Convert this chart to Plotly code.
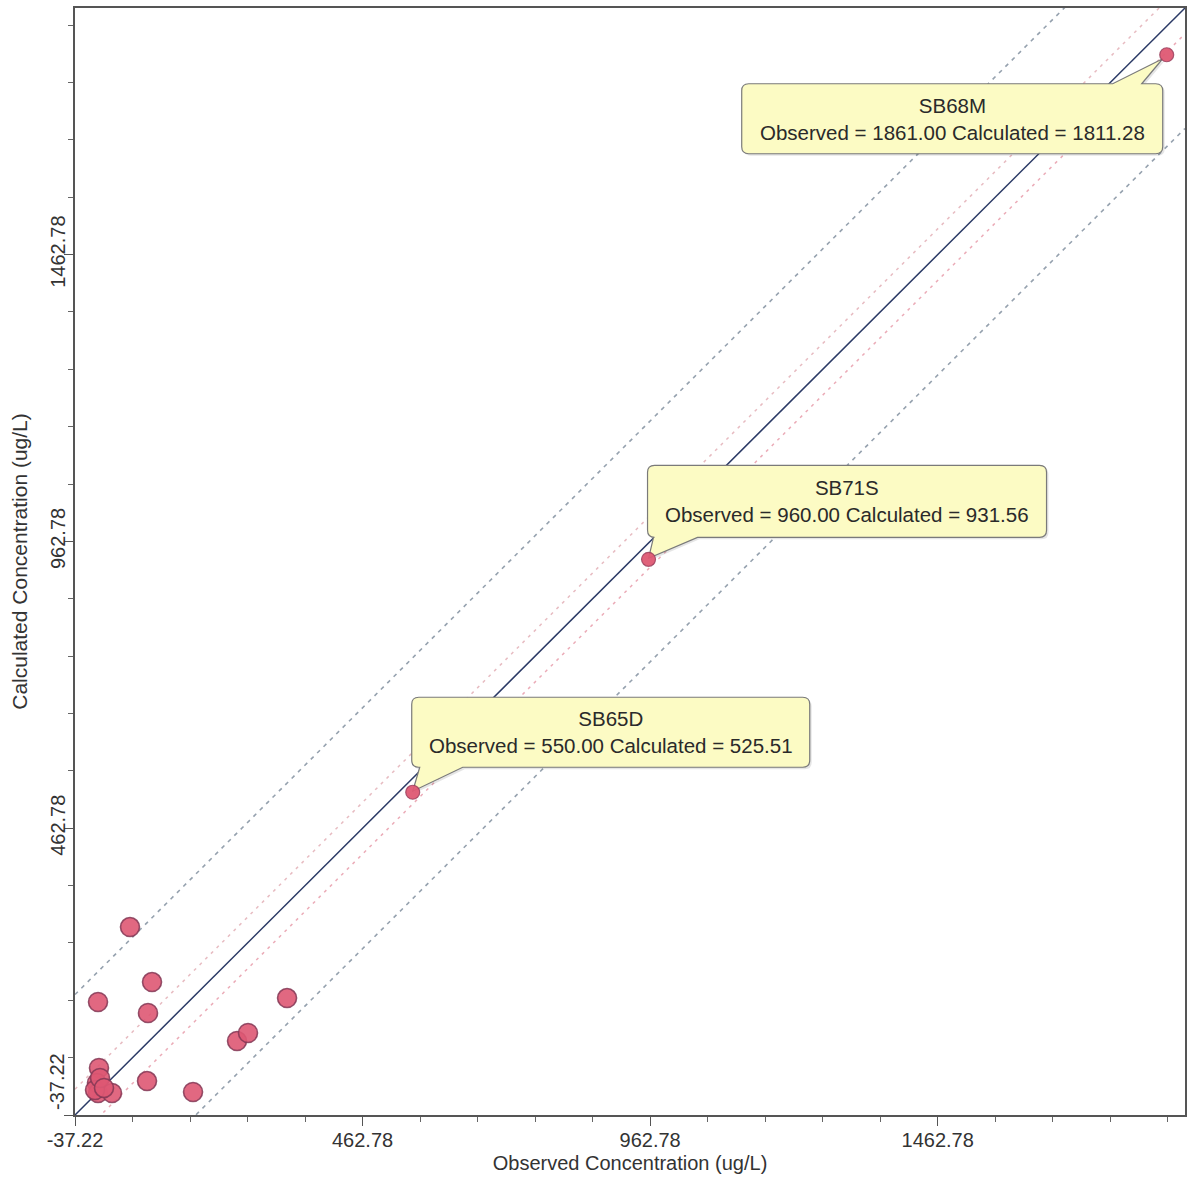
import plotly.graph_objects as go

# ---------------- data ----------------
obs_values = [58.4, 96.7, 2.8, 89.7, 331.5, 244.5, 263.6, 4.5, 1.0, 2.8, 27.1, 88.0, 168.0, -2.4, 6.3, 13.2]
calc_values = [290.5, 194.6, 159.8, 140.6, 166.7, 91.8, 105.7, 44.7, 18.6, 1.1, 1.1, 22.0, 2.9, 6.4, 27.3, 9.9]

labeled_names = ["SB65D", "SB71S", "SB68M"]
labeled_obs = [550.00, 960.00, 1861.00]
labeled_calc = [525.51, 931.56, 1811.28]

axis_min = -37.22
axis_max = 1892.78
tick_values = [-37.22, 462.78, 962.78, 1462.78]
tick_labels = ["-37.22", "462.78", "962.78", "1462.78"]
outer_band = 210.0
inner_band = 45.0

# ---------------- layout geometry ----------------
W, H = 1189, 1179
PL, PR, PT, PB = 75, 1185, 8, 1115
sx = (PR - PL) / (axis_max - axis_min)
sy = (PB - PT) / (axis_max - axis_min)


def to_px(x, y):
    return PL + (x - axis_min) * sx, PB - (y - axis_min) * sy


def to_data(px, py):
    return axis_min + (px - PL) / sx, axis_min + (PB - py) / sy


FONT = "Liberation Sans, Arial, sans-serif"

fig = go.Figure()

shapes = []
# reference lines
line_specs = [
    (outer_band, dict(color="rgba(130,145,160,0.85)", width=1.6, dash="4px,5px")),
    (-outer_band, dict(color="rgba(130,145,160,0.85)", width=1.6, dash="4px,5px")),
    (inner_band, dict(color="rgba(225,170,178,0.8)", width=1.5, dash="3px,5px")),
    (-inner_band, dict(color="rgba(230,150,165,0.8)", width=1.5, dash="3px,5px")),
    (0.0, dict(color="#2b3a66", width=1.5)),
]
for off, ln in line_specs:
    x0 = axis_min
    x1 = axis_max
    shapes.append(dict(type="line", xref="x", yref="y", x0=x0, y0=x0 + off, x1=x1, y1=x1 + off,
                       line=ln, layer="below"))

# callouts (pixel offsets relative to the labelled point)
callouts = [
    dict(box=(-1, -95, 398, 70), side="bottom", base=(8, 51), tip=(0, -1)),
    dict(box=(-1, -94, 399, 72), side="bottom", base=(6, 50), tip=(0, -1)),
    dict(box=(-425, 29, 421, 70), side="top", base=(371, 400), tip=(-4, 4)),
]


def callout_path(L, T, Wb, Hb, side, b1, b2, tx, ty, r=7):
    def P(px, py):
        x, y = to_data(px, py)
        return f"{x:.3f},{y:.3f}"

    s = f"M{P(L + r, T)}"
    if side == "top":
        s += f" L{P(b1, T)} L{P(tx, ty)} L{P(b2, T)}"
    s += f" L{P(L + Wb - r, T)} Q{P(L + Wb, T)} {P(L + Wb, T + r)}"
    s += f" L{P(L + Wb, T + Hb - r)} Q{P(L + Wb, T + Hb)} {P(L + Wb - r, T + Hb)}"
    if side == "bottom":
        s += f" L{P(b2, T + Hb)} L{P(tx, ty)} L{P(b1, T + Hb)}"
    s += f" L{P(L + r, T + Hb)} Q{P(L, T + Hb)} {P(L, T + Hb - r)}"
    s += f" L{P(L, T + r)} Q{P(L, T)} {P(L + r, T)} Z"
    return s


annotations = []
for name, ox, oy, co in zip(labeled_names, labeled_obs, labeled_calc, callouts):
    ptx, pty = to_px(ox, oy)
    dx, dy, bw, bh = co["box"]
    L, T = ptx + dx, pty + dy
    b1, b2 = L + co["base"][0], L + co["base"][1]
    tx, ty = ptx + co["tip"][0], pty + co["tip"][1]
    shapes.append(dict(type="path", xref="x", yref="y",
                       path=callout_path(L + 2, T + 2, bw, bh, co["side"], b1 + 2, b2 + 2, tx + 2, ty + 2),
                       fillcolor="rgba(0,0,0,0.10)", line=dict(width=0), layer="below"))
    shapes.append(dict(type="path", xref="x", yref="y",
                       path=callout_path(L, T, bw, bh, co["side"], b1, b2, tx, ty),
                       fillcolor="#fcfbc4", line=dict(color="#7a7a7a", width=1.2), layer="below"))
    cx, cy = to_data(L + bw / 2, T + bh / 2)
    annotations.append(dict(x=cx, y=cy, xref="x", yref="y", showarrow=False,
                            text=f"{name}<br>Observed = {ox:.2f} Calculated = {oy:.2f}",
                            align="center", font=dict(family=FONT, size=20.5, color="#2a2a2a")))

# the lowest y tick label sits a little above its tick in the reference
y_ticktext = [""] + tick_labels[1:]
annotations.append(dict(x=0, xref="paper", xanchor="center", xshift=-18,
                        y=tick_values[0], yref="y", yanchor="middle", yshift=33,
                        text=tick_labels[0], textangle=-90, showarrow=False,
                        font=dict(family=FONT, size=20, color="#333")))

# markers
fig.add_trace(go.Scatter(
    x=obs_values, y=calc_values, mode="markers",
    marker=dict(size=19, color="rgba(222,88,115,0.9)",
                line=dict(color="rgba(130,55,85,0.85)", width=1.6)),
    hoverinfo="x+y", showlegend=False))
fig.add_trace(go.Scatter(
    x=labeled_obs, y=labeled_calc, mode="markers", text=labeled_names,
    marker=dict(size=14, color="rgba(222,88,115,0.95)",
                line=dict(color="rgba(150,60,90,0.8)", width=1.2)),
    hoverinfo="text+x+y", showlegend=False))

axis_common = dict(
    range=[axis_min, axis_max], tickvals=tick_values,
    ticks="outside", ticklen=9, tickwidth=1.2, tickcolor="#555",
    showline=True, linecolor="#555", linewidth=1.5, mirror=True,
    showgrid=False, zeroline=False, automargin=False,
    minor=dict(tick0=axis_min, dtick=100, ticks="outside", ticklen=5, tickwidth=1, tickcolor="#666", showgrid=False),
    tickfont=dict(family=FONT, size=20, color="#333"),
)

fig.update_layout(
    width=W, height=H,
    margin=dict(l=PL, r=W - PR, t=PT, b=H - PB),
    paper_bgcolor="white", plot_bgcolor="white",
    xaxis=dict(**axis_common, ticktext=tick_labels, ticklabelstandoff=-3,
               title=dict(text="Observed Concentration (ug/L)", standoff=6,
                          font=dict(family=FONT, size=20, color="#333"))),
    yaxis=dict(**axis_common, ticktext=y_ticktext, tickangle=-90, ticklabelstandoff=-9,
               title=dict(text="Calculated Concentration (ug/L)", standoff=14,
                          font=dict(family=FONT, size=21, color="#333"))),
    shapes=shapes, annotations=annotations,
)

fig.write_html("out.html")
